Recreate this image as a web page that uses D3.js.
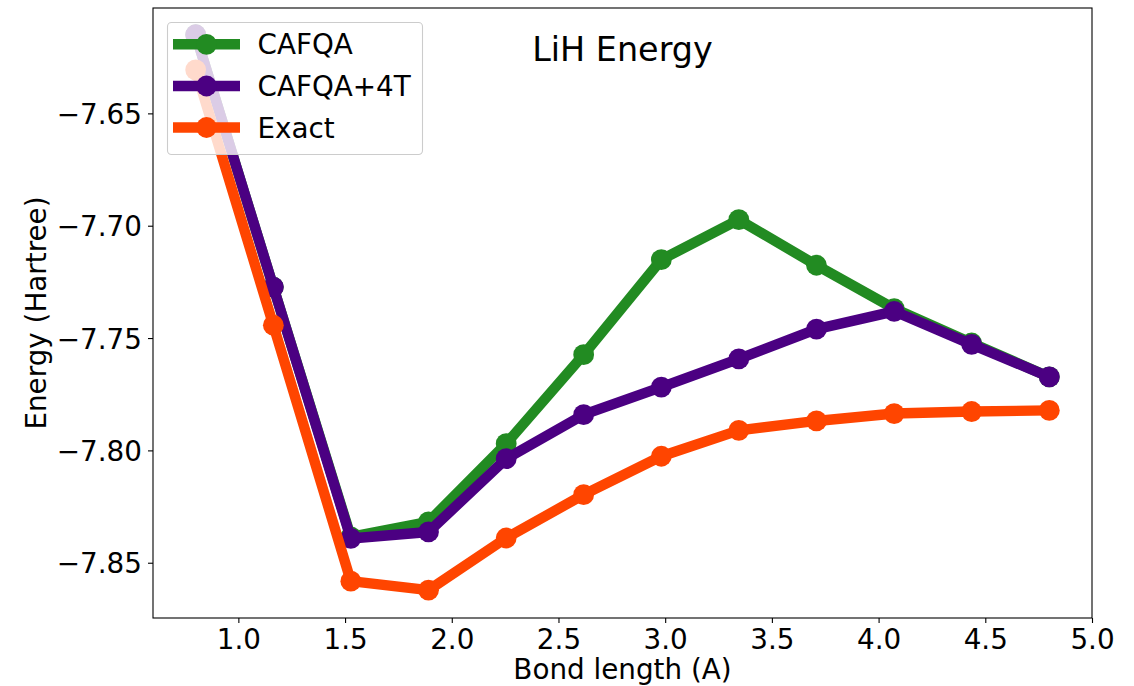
<!DOCTYPE html>
<html>
<head>
<meta charset="utf-8">
<script src="https://cdn.jsdelivr.net/npm/d3@7"></script>
<style>
  html, body { margin: 0; padding: 0; background: #fff; }
  svg { display: block; }
  text { font-family: "DejaVu Sans", sans-serif; fill: #000; }
</style>
</head>
<body>
<svg id="chart" width="1134" height="686"></svg>
<script>
// Bond lengths (Angstrom)
const bondLengths = [0.800, 1.164, 1.527, 1.891, 2.255, 2.618, 2.982, 3.345, 3.709, 4.073, 4.436, 4.800];

// Ground-state energies (Hartree)
const cafqa     = [-7.6150, -7.7273, -7.8385, -7.8318, -7.7970, -7.7574, -7.7151, -7.6973, -7.7176, -7.7369, -7.7522, -7.7673];
const cafqa4T   = [-7.6150, -7.7273, -7.8392, -7.8363, -7.8037, -7.7841, -7.7718, -7.7593, -7.7460, -7.7381, -7.7528, -7.7673];
const exact     = [-7.6306, -7.7443, -7.8582, -7.8622, -7.8390, -7.8197, -7.8026, -7.7911, -7.7869, -7.7836, -7.7827, -7.7822];

const seriesNames  = ["CAFQA", "CAFQA+4T", "Exact"];
const seriesColors = ["#228B22", "#4B0082", "#FF4500"];
const seriesValues = [cafqa, cafqa4T, exact];

const xTicks = [1.0, 1.5, 2.0, 2.5, 3.0, 3.5, 4.0, 4.5, 5.0];
const yTicks = [-7.65, -7.70, -7.75, -7.80, -7.85];

const chartTitle = "LiH Energy";
const xLabel = "Bond length (A)";
const yLabel = "Energy (Hartree)";

// Layout
const plot = { left: 153, right: 1092, top: 8, bottom: 618 };
const fontSize = 27.8;
const lineW = 10.4;
const markerR = 10.4;

const svg = d3.select("#chart");

const x = d3.scaleLinear().domain([0.6, 5.0]).range([plot.left, plot.right]);
const y = d3.scaleLinear().domain([-7.8746, -7.6031]).range([plot.bottom, plot.top]);

const fmtX = d3.format(".1f");
const fmtY = v => d3.format(".2f")(v).replace("-", "\u2212");

// Axes
const xAxis = d3.axisBottom(x).tickValues(xTicks).tickFormat(fmtX).tickSizeInner(5).tickSizeOuter(0).tickPadding(5);
const yAxis = d3.axisLeft(y).tickValues(yTicks).tickFormat(fmtY).tickSizeInner(5).tickSizeOuter(0).tickPadding(5);

const gx = svg.append("g").attr("transform", `translate(0,${plot.bottom})`).call(xAxis);
const gy = svg.append("g").attr("transform", `translate(${plot.left},0)`).call(yAxis);

[gx, gy].forEach(g => {
  g.select(".domain").remove();
  g.selectAll(".tick line").attr("stroke", "#000").attr("stroke-width", 1.1);
  g.selectAll(".tick text")
    .style("font-family", "'DejaVu Sans', sans-serif")
    .style("font-size", fontSize + "px")
    .attr("fill", "#000");
});
gx.selectAll(".tick text").attr("dy", null).attr("y", 31);
gy.selectAll(".tick text").attr("dy", "0.36em").attr("x", -11);

// Lines and markers
const clipId = "plot-clip";
svg.append("clipPath").attr("id", clipId)
  .append("rect")
  .attr("x", plot.left).attr("y", plot.top)
  .attr("width", plot.right - plot.left).attr("height", plot.bottom - plot.top);

const line = d3.line().x(d => x(d[0])).y(d => y(d[1]));
const gLines = svg.append("g").attr("clip-path", `url(#${clipId})`);

seriesValues.forEach((vals, i) => {
  const pts = bondLengths.map((b, j) => [b, vals[j]]);
  gLines.append("path")
    .datum(pts)
    .attr("d", line)
    .attr("fill", "none")
    .attr("stroke", seriesColors[i])
    .attr("stroke-width", lineW)
    .attr("stroke-linejoin", "round")
    .attr("stroke-linecap", "butt");
  gLines.selectAll(null)
    .data(pts)
    .enter().append("circle")
    .attr("cx", d => x(d[0]))
    .attr("cy", d => y(d[1]))
    .attr("r", markerR)
    .attr("fill", seriesColors[i]);
});

// Frame
svg.append("rect")
  .attr("x", plot.left).attr("y", plot.top)
  .attr("width", plot.right - plot.left).attr("height", plot.bottom - plot.top)
  .attr("fill", "none").attr("stroke", "#000").attr("stroke-width", 1.1);

// Title inside the axes
svg.append("text")
  .attr("x", (plot.left + plot.right) / 2)
  .attr("y", 61)
  .attr("text-anchor", "middle")
  .style("font-size", "33.4px")
  .text(chartTitle);

// Axis labels
svg.append("text")
  .attr("x", (plot.left + plot.right) / 2)
  .attr("y", 679)
  .attr("text-anchor", "middle")
  .style("font-size", fontSize + "px")
  .text(xLabel);

svg.append("text")
  .attr("transform", `translate(45.5,${(plot.top + plot.bottom) / 2}) rotate(-90)`)
  .attr("text-anchor", "middle")
  .style("font-size", fontSize + "px")
  .text(yLabel);

// Legend
const legend = svg.append("g");
legend.append("rect")
  .attr("x", 167.5).attr("y", 22.5)
  .attr("width", 255).attr("height", 132)
  .attr("rx", 4).attr("ry", 4)
  .attr("fill", "#fff").attr("fill-opacity", 0.8)
  .attr("stroke", "#ccc").attr("stroke-width", 1.1);

const rowY = [44.3, 86.0, 127.5];
seriesNames.forEach((name, i) => {
  const row = legend.append("g").attr("transform", `translate(0,${rowY[i]})`);
  row.append("line")
    .attr("x1", 173).attr("x2", 240).attr("y1", 0).attr("y2", 0)
    .attr("stroke", seriesColors[i]).attr("stroke-width", lineW);
  row.append("circle")
    .attr("cx", 206.5).attr("cy", 0).attr("r", markerR)
    .attr("fill", seriesColors[i]);
  row.append("text")
    .attr("x", 257.5).attr("y", 0).attr("dy", "0.36em")
    .style("font-size", fontSize + "px")
    .text(name);
});
</script>
</body>
</html>
